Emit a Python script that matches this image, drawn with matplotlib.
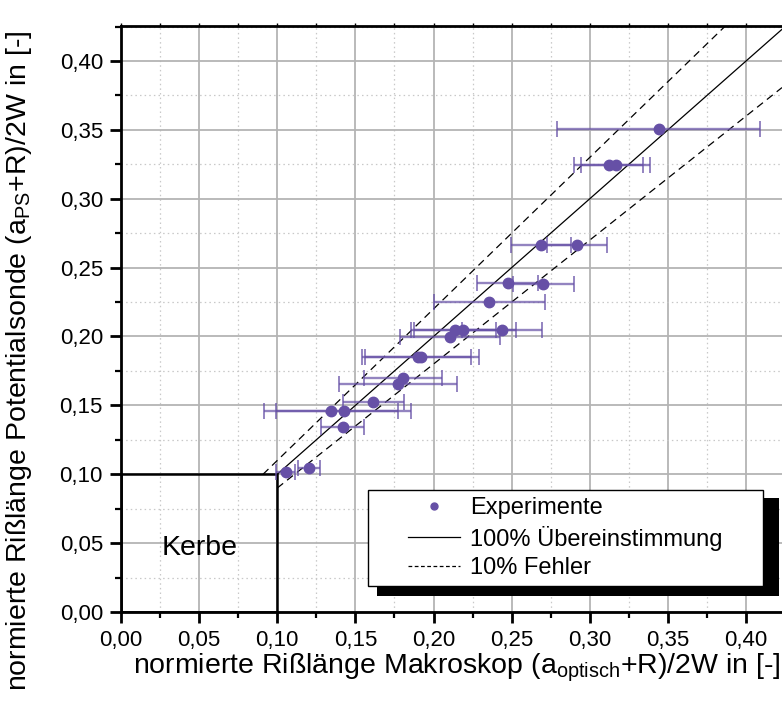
import numpy as np
import matplotlib
matplotlib.use("Agg")
import matplotlib.pyplot as plt
from matplotlib.patches import Rectangle
from matplotlib.lines import Line2D
from matplotlib.ticker import MultipleLocator, FuncFormatter

plt.rcParams['font.family'] = ['Liberation Sans', 'DejaVu Sans']
plt.rcParams['mathtext.fontset'] = 'custom'
plt.rcParams['mathtext.rm'] = 'Liberation Sans'
plt.rcParams['mathtext.it'] = 'Liberation Sans'

# normierte Risslaenge: Makroskop (x) vs. Potentialsonde (y)
x_opt = [0.344, 0.312, 0.3165, 0.269, 0.2915, 0.2474, 0.2702, 0.2357,
         0.2137, 0.219, 0.244, 0.2105, 0.1917, 0.1901, 0.1806, 0.1774,
         0.1614, 0.1342, 0.1425, 0.1418, 0.1054, 0.1203]
y_ps = [0.3504, 0.3245, 0.3245, 0.2664, 0.2664, 0.2391, 0.2379, 0.2253,
        0.2047, 0.2047, 0.2047, 0.1994, 0.1853, 0.1853, 0.1697, 0.1653,
        0.1527, 0.1461, 0.1461, 0.1345, 0.1017, 0.1043]
x_err = [0.065, 0.022, 0.022, 0.0192, 0.0192, 0.0194, 0.0194, 0.0356,
         0.026, 0.0335, 0.0256, 0.032, 0.0376, 0.0339, 0.025, 0.0377,
         0.0195, 0.043, 0.043, 0.0135, 0.006, 0.007]

kerbe = 0.10      # Kerbtiefe
fehler = 0.10     # 10% Fehlerband
x_max, y_max = 0.423, 0.4254

purple = '#6650a6'

fig = plt.figure(figsize=(7.82, 7.08), dpi=100)
ax = fig.add_axes([121 / 782, 96 / 708, 661 / 782, 586 / 708])

# grid
ax.xaxis.set_major_locator(MultipleLocator(0.05))
ax.xaxis.set_minor_locator(MultipleLocator(0.025))
ax.yaxis.set_major_locator(MultipleLocator(0.05))
ax.yaxis.set_minor_locator(MultipleLocator(0.025))
ax.grid(True, which='major', color='#b4b4b4', lw=1.3, zorder=0)
ax.grid(True, which='minor', color='#c8c8c8', lw=0.9, ls=(0, (1.2, 2.5)), zorder=0)
ax.set_axisbelow(True)

# Geraden: 100% Uebereinstimmung und +/-10%
xs = np.array([kerbe, x_max])
ax.plot(xs, xs, color='black', lw=0.9, zorder=3)
xs_up = np.array([kerbe / (1 + fehler), x_max])
ax.plot(xs_up, (1 + fehler) * xs_up, color='black', lw=0.9, ls=(0, (6, 4)), zorder=3)
ax.plot(xs, (1 - fehler) * xs, color='black', lw=0.9, ls=(0, (6, 4)), zorder=3)

# data
ax.errorbar(x_opt, y_ps, xerr=x_err, fmt='none', ecolor=purple, elinewidth=1.7,
            capsize=6, capthick=1.4, alpha=0.7, zorder=4)
ax.plot(x_opt, y_ps, 'o', color=purple, ms=7.5, zorder=5)

# Kerbe
ax.add_patch(Rectangle((0, 0), kerbe, kerbe, fill=False, ec='black', lw=1.8, zorder=3))
ax.text(kerbe / 2, 0.0465, 'Kerbe', fontsize=20.5, ha='center', va='center', zorder=6)

ax.set_xlim(0, x_max)
ax.set_ylim(0, y_max)

fmt = FuncFormatter(lambda v, p: f'{v:.2f}'.replace('.', ','))
ax.xaxis.set_major_formatter(fmt)
ax.yaxis.set_major_formatter(fmt)

for s in ['left', 'bottom', 'top']:
    ax.spines[s].set_linewidth(2)
ax.spines['right'].set_visible(False)
ax.tick_params(which='major', direction='out', length=8, width=2, labelsize=16, pad=5)
ax.tick_params(which='minor', direction='out', length=4, width=1.6)
ax.tick_params(axis='x', which='both', top=True, labeltop=False)
# kurze Ticks oben
for t in ax.xaxis.get_major_ticks() + ax.xaxis.get_minor_ticks():
    t.tick2line.set_markersize(2.5)
    t.tick2line.set_markeredgewidth(1)

ax.set_xlabel('normierte Rißlänge Makroskop (a$_{\\rm optisch}$+R)/2W in [-]', fontsize=20.5)
ax.xaxis.set_label_coords(0.508, -0.067)
ax.set_ylabel('normierte Rißlänge Potentialsonde (a$_{\\rm PS}$+R)/2W in [-]', fontsize=20.5)
ax.yaxis.set_label_coords(-0.132, 0.428)

# legend with black shadow
ax.add_patch(Rectangle((0.3868, 0.0273), 0.6091, 0.1672, transform=ax.transAxes,
                       fc='black', ec='none', zorder=7, clip_on=False))
ax.add_patch(Rectangle((0.3741, 0.0444), 0.5976, 0.1638, transform=ax.transAxes,
                       fc='white', ec='black', lw=1, zorder=8, clip_on=False))
handles = [Line2D([], [], ls='none', marker='o', color=purple, ms=5),
           Line2D([], [], color='black', lw=0.9),
           Line2D([], [], color='black', lw=0.9, ls=(0, (3, 2)))]
labels = ['Experimente', '100% Übereinstimmung', '10% Fehler']
leg = ax.legend(handles, labels, loc='center', bbox_to_anchor=(0.672, 0.126),
                frameon=False, fontsize=17, handlelength=2.2, handletextpad=0.45,
                labelspacing=0.28, borderpad=0)
leg.set_zorder(9)

fig.savefig('out.png', dpi=100)
